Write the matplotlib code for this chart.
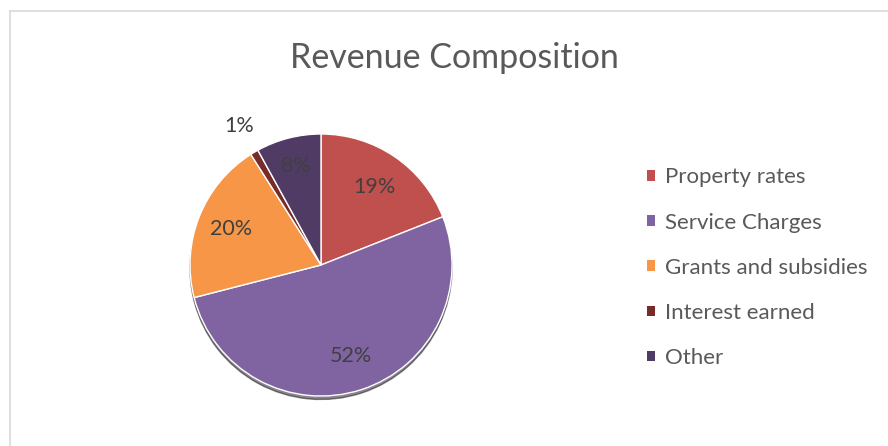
import matplotlib
matplotlib.use('Agg')
from matplotlib import pyplot as plt
from matplotlib.lines import Line2D
from matplotlib.patches import Patch
import numpy as np

plt.rcParams['font.family'] = ['Lato', 'DejaVu Sans']

categories = ['Property rates', 'Service Charges', 'Grants and subsidies', 'Interest earned', 'Other']
shares = [19, 52, 20, 1, 8]
colors = ['#C0504D', '#8064A2', '#F79646', '#772C2A', '#4F3B63']
# how far out each percentage label sits, as a fraction of the radius
label_dist = [0.72, 0.73, 0.74, 1.23, 0.78]

W, H = 888, 446
fig = plt.figure(figsize=(W / 100, H / 100), dpi=100)
ax = fig.add_axes([0, 0, 1, 1])

cx, cy, r = 321, H - 265, 131

wedges, _ = ax.pie(shares, colors=colors, startangle=90, counterclock=False,
                   center=(cx, cy), radius=r, frame=True,
                   wedgeprops=dict(edgecolor='white', linewidth=1),
                   shadow={'ox': 0, 'oy': -2.5, 'shade': 0.85})
ax.set_xlim(0, W)
ax.set_ylim(0, H)
ax.set_aspect('equal')
ax.axis('off')

# percentage labels
for w, s, d in zip(wedges, shares, label_dist):
    ang = np.deg2rad((w.theta1 + w.theta2) / 2)
    ax.text(cx + d * r * np.cos(ang), cy + d * r * np.sin(ang), '%d%%' % s,
            ha='center', va='center', fontsize=15.5, color='#404040')

fig.text(454 / W, 1 - 58 / H, 'Revenue Composition', ha='center', va='center',
         fontsize=24.5, color='#595959')

handles = [Patch(facecolor=c, edgecolor='none') for c in colors]
leg = fig.legend(handles, categories, loc='upper left', bbox_to_anchor=(647 / W, 1 - 167.5 / H),
                 frameon=False, fontsize=16, labelcolor='#595959',
                 borderpad=0, borderaxespad=0,
                 handlelength=0.35, handleheight=0.35, handletextpad=0.45,
                 labelspacing=1.13)

# chart area border (only top and left edges show in the crop)
fig.add_artist(Line2D([9.5 / W, 9.5 / W], [0, 1 - 10.5 / H], color='#D9D9D9', lw=1.2))
fig.add_artist(Line2D([9.5 / W, 1], [1 - 10.5 / H, 1 - 10.5 / H], color='#D9D9D9', lw=1.2))

plt.savefig('out.png', dpi=100)
